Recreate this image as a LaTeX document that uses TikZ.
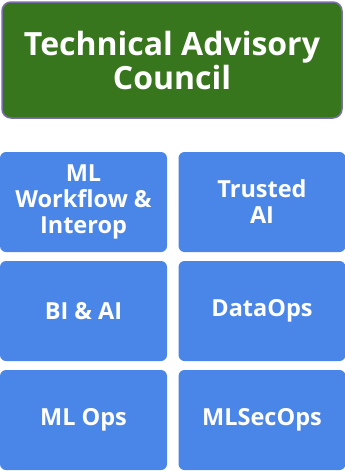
\documentclass[tikz,border=0pt]{standalone}
\usepackage{fontspec}
\setmainfont{Open Sans}[BoldFont={* Bold}]
\definecolor{tgreen}{HTML}{38761D}
\definecolor{tborder}{HTML}{7B6FA8}
\definecolor{tblue}{HTML}{4A86E8}
\begin{document}
\begin{tikzpicture}[x=1pt,y=-1pt,
  titlebox/.style={draw=tborder,line width=1.5pt,fill=tgreen,rounded corners=9pt,
    text=white,font=\bfseries\fontsize{32}{34}\selectfont,align=center,inner sep=0pt,
    minimum width=340pt,minimum height=116pt},
  wgbox/.style={fill=tblue,rounded corners=6pt,text=white,
    font=\bfseries\fontsize{23.5}{26}\selectfont,align=center,inner sep=0pt,
    minimum width=167pt,minimum height=100pt}]
\useasboundingbox (0,0) rectangle (345,471);
\node[titlebox] (tac) at (172,60) {Technical Advisory\\Council};
\node[wgbox] (mlw) at (83.5,202) {ML\\Workflow \&\\Interop};
\node[wgbox] (tai) at (262,202) {Trusted\\AI};
\node[wgbox] (biai) at (83.5,311) {BI \& AI};
\node[wgbox] (dops) at (262,311) {DataOps};
\node[wgbox] (mlops) at (83.5,420) {ML Ops};
\node[wgbox] (mlsec) at (262,420) {MLSecOps};
\end{tikzpicture}
\end{document}
